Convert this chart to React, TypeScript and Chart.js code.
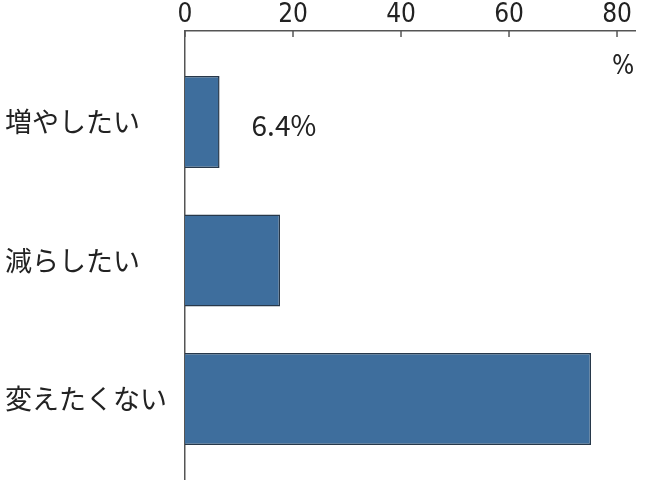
import React, { useEffect, useRef } from "react";
import { Chart, registerables } from "chart.js";

Chart.register(...registerables);

const categories = ["増やしたい", "減らしたい", "変えたくない"];
const values = [6.4, 17.6, 75.2];
const valueLabels = ["6.4%", "", ""];
const xTicks = [0, 20, 40, 60, 80];
const unitLabel = "%";

const axisColor = "#555555";
const textColor = "#222222";
const barColor = "#3e6e9d";
const barBorder = "#27384a";
const jpFont = "'Noto Sans CJK JP', 'Noto Sans', sans-serif";
const numFont = "'Liberation Sans Narrow', 'DejaVu Sans Condensed', 'Noto Sans', sans-serif";

export default function App() {
  const ref = useRef<HTMLCanvasElement | null>(null);

  useEffect(() => {
    if (!ref.current) return;
    const overlay = {
      id: "overlay",
      afterDatasetsDraw(chart: any) {
        const { ctx, chartArea, scales } = chart;
        const xs = scales.x;
        ctx.save();
        ctx.strokeStyle = axisColor;
        ctx.lineWidth = 1.5;
        xTicks.forEach((v) => {
          const px = xs.getPixelForValue(v);
          ctx.beginPath();
          ctx.moveTo(px, chartArea.top);
          ctx.lineTo(px, chartArea.top + 6);
          ctx.stroke();
        });
        const meta = chart.getDatasetMeta(0);
        ctx.fillStyle = textColor;
        ctx.font = `28px ${jpFont}`;
        ctx.textAlign = "left";
        ctx.textBaseline = "middle";
        meta.data.forEach((el: any, i: number) => {
          if (valueLabels[i]) ctx.fillText(valueLabels[i], el.x + 32, el.y + 3);
        });
        ctx.font = `26px ${numFont}`;
        ctx.textAlign = "center";
        ctx.fillText(unitLabel, chartArea.right - 12, chartArea.top + 36);
        ctx.restore();
      },
    };

    const chart = new Chart(ref.current, {
      type: "bar",
      data: {
        datasets: [
          {
            data: values.map((v, i) => ({ x: v, y: i })),
            backgroundColor: barColor,
            borderColor: barBorder,
            borderWidth: 1.5,
            barPercentage: 0.665,
            categoryPercentage: 1,
          },
        ],
      },
      options: {
        indexAxis: "y",
        animation: false,
        responsive: true,
        maintainAspectRatio: false,
        layout: { padding: { left: 5, right: 15, top: 0, bottom: 0 } },
        plugins: { legend: { display: false }, tooltip: { enabled: false } },
        scales: {
          x: {
            type: "linear",
            position: "top",
            min: 0,
            max: 83.33,
            offset: false,
            afterBuildTicks: (s: any) => {
              s.ticks = xTicks.map((v) => ({ value: v }));
            },
            afterFit: (s: any) => {
              s.height = 31;
            },
            grid: { display: false, drawTicks: false },
            border: { display: true, color: axisColor, width: 1.5 },
            ticks: {
              color: textColor,
              padding: 3,
              font: { family: numFont, size: 26, lineHeight: 1 },
              maxRotation: 0,
            },
          },
          y: {
            type: "linear",
            reverse: true,
            min: -0.657,
            max: 2.585,
            offset: false,
            afterBuildTicks: (s: any) => {
              s.ticks = categories.map((_, i) => ({ value: i }));
            },
            afterFit: (s: any) => {
              s.width = 180;
              s.paddingTop = 0;
              s.paddingBottom = 0;
            },
            grid: { display: false, drawTicks: false, offset: false },
            border: { display: true, color: axisColor, width: 1.5 },
            ticks: {
              color: textColor,
              crossAlign: "far",
              font: { family: jpFont, size: 27 },
              callback: (v: any) => categories[v] ?? "",
            },
          },
        },
      },
      plugins: [overlay],
    } as any);
    return () => chart.destroy();
  }, []);

  return (
    <div style={{ position: "fixed", left: 0, top: 0, width: 650, height: 480, background: "#fff" }}>
      <canvas ref={ref} />
    </div>
  );
}
